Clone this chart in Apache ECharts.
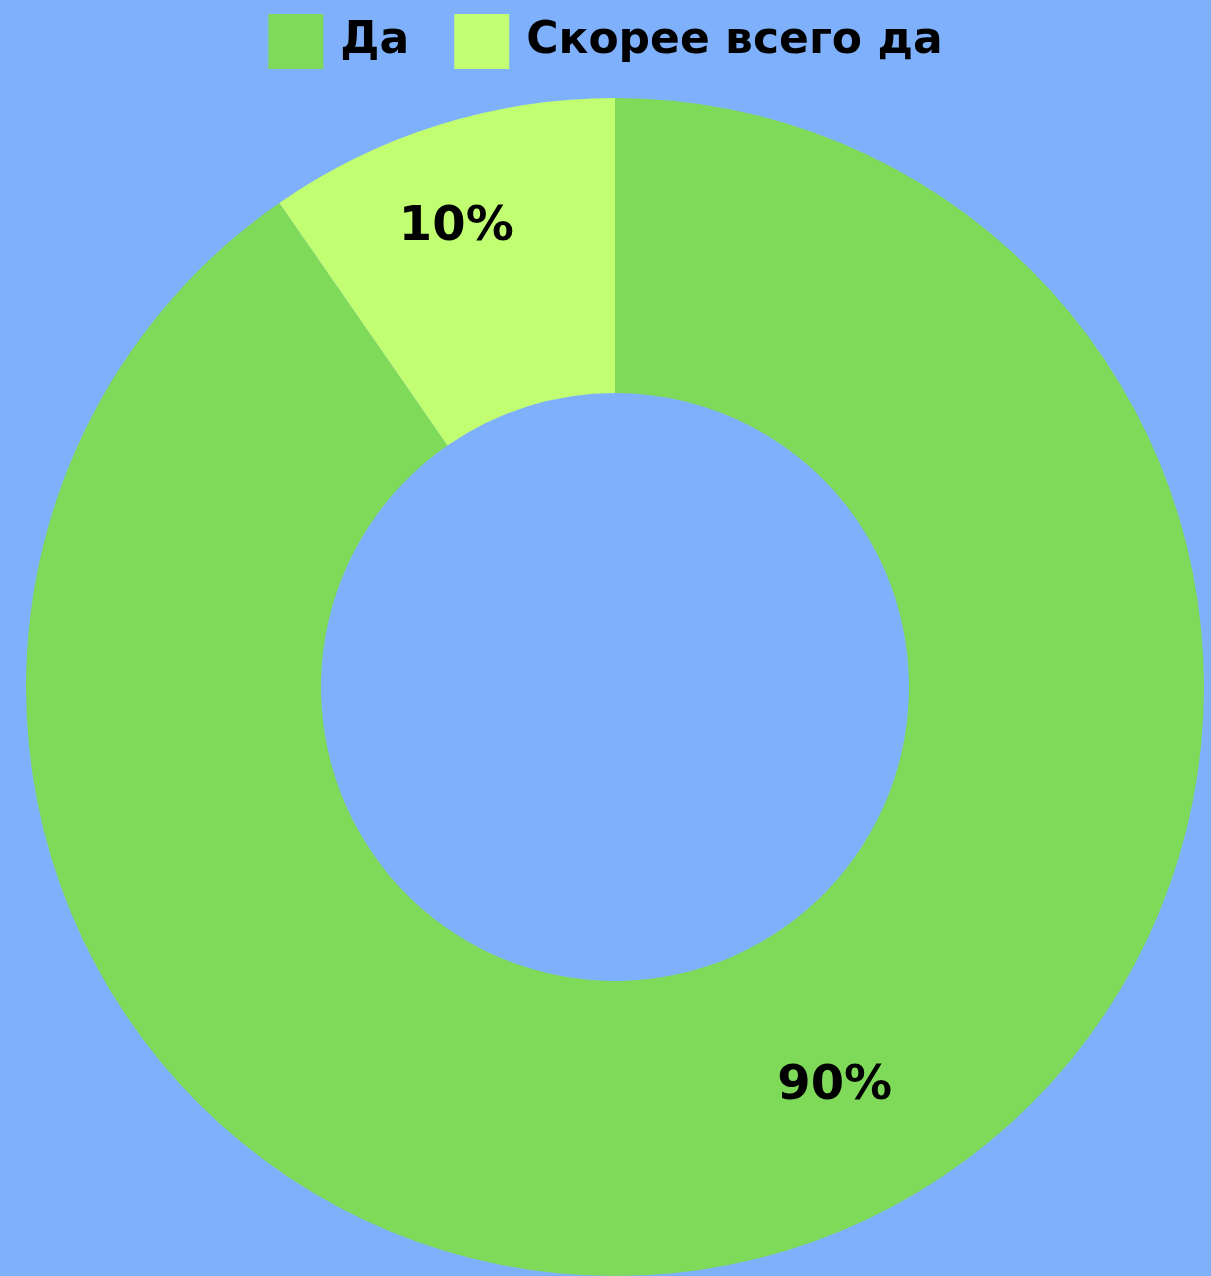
<!DOCTYPE html>
<html><head><meta charset="utf-8">
<script src="https://cdn.jsdelivr.net/npm/echarts@6/dist/echarts.min.js"></script>
<style>html,body{margin:0;padding:0;background:#7fb0fc;}#c{width:1211px;height:1276px;}</style>
</head><body><div id="c"></div>
<script>
const categories = ["Да", "Скорее всего да"];
const values = [90.35, 9.65];
const colors = ["#80da5a", "#c1fe71"];
const labelOffsets = [[87, -25], [-26, -35]];

const chart = echarts.init(document.getElementById('c'), null, {renderer: 'canvas'});
chart.setOption({
  backgroundColor: '#7fb0fc',
  animation: false,
  legend: {
    top: 9, left: 'center',
    itemWidth: 55, itemHeight: 55, itemGap: 45,
    icon: 'rect',
    textStyle: {fontFamily: 'DejaVu Sans', fontWeight: 'bold', fontSize: 44, color: '#000', padding: [0, 0, 0, 12]},
    data: categories
  },
  series: [{
    type: 'pie',
    center: [615, 687],
    radius: [294, 589],
    startAngle: 90,
    clockwise: true,
    percentPrecision: 0,
    label: {
      position: 'inside',
      formatter: '{d}%',
      fontFamily: 'DejaVu Sans', fontWeight: 'bold', fontSize: 48, color: '#000'
    },
    labelLine: {show: false},
    emphasis: {disabled: true},
    data: categories.map((c, i) => ({
      name: c, value: values[i],
      itemStyle: {color: colors[i]},
      label: {offset: labelOffsets[i]}
    }))
  }]
});
</script></body></html>
